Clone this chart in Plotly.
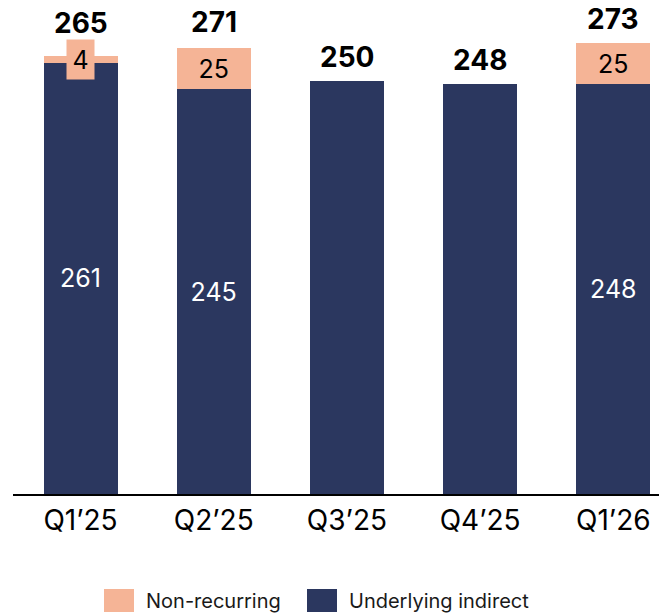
import plotly.graph_objects as go

# Data (totals as printed; segments are rounded)
quarters = ["Q1’25", "Q2’25", "Q3’25", "Q4’25", "Q1’26"]
underlying = [261, 245, 250, 248, 248]
non_recurring = [4, 25, 0, 0, 25]
totals = [265, 271, 250, 248, 273]

NAVY = "#2B375F"
PEACH = "#F5B496"
FONT = "Inter, Roboto, sans-serif"

W, H = 659, 614
PLOT_L, PLOT_R, PLOT_T, PLOT_B = 13, 659, 0, 494


def px_x(px):
    return (px - PLOT_L) / (PLOT_R - PLOT_L)


def px_y(py):
    return (PLOT_B - py) / (PLOT_B - PLOT_T)


fig = go.Figure()

# underlying value is only labelled where there is a non-recurring part
fig.add_trace(go.Bar(
    x=quarters, y=underlying, name="Underlying indirect",
    marker=dict(color=NAVY, line=dict(width=0)),
    text=[str(u) if n > 0 else "" for u, n in zip(underlying, non_recurring)],
    textposition="inside", insidetextanchor="middle",
    textfont=dict(family=FONT, size=25, color="white"),
))

fig.add_trace(go.Bar(
    x=quarters, y=non_recurring, name="Non-recurring",
    marker=dict(color=PEACH, line=dict(width=0)),
    text=[str(v) if v >= 10 else "" for v in non_recurring],
    textposition="inside", insidetextanchor="middle",
    textfont=dict(family=FONT, size=25, color="black"),
))

annotations = []
for q, n, t in zip(quarters, non_recurring, totals):
    small = 0 < n < 10
    # total label above the stack
    annotations.append(dict(
        x=q, y=t, text=f"<b>{t}</b>", showarrow=False,
        yanchor="bottom", yshift=14 if small else 5,
        font=dict(family=FONT, size=28, color="black"),
    ))
    if small:
        # tiny segment: label sits in a peach box over the bar top
        annotations.append(dict(
            x=q, y=t, text=str(n), showarrow=False,
            yanchor="middle", yshift=-3,
            bgcolor=PEACH, width=25, height=37, borderpad=1,
            font=dict(family=FONT, size=25, color="black"),
        ))

# custom legend (large swatches)
legend_items = [("Non-recurring", PEACH, 104), ("Underlying indirect", NAVY, 307)]
shapes = []
for label, color, x0 in legend_items:
    shapes.append(dict(
        type="rect", xref="paper", yref="paper",
        x0=px_x(x0), x1=px_x(x0 + 30), y0=px_y(612), y1=px_y(589),
        fillcolor=color, line=dict(width=0),
    ))
    annotations.append(dict(
        xref="paper", yref="paper", x=px_x(x0 + 40), y=px_y(601),
        xanchor="left", yanchor="middle", text=label, showarrow=False,
        font=dict(family=FONT, size=20, color="#1a1a1a"),
    ))

fig.update_layout(
    barmode="stack",
    bargap=0.444,
    width=W, height=H,
    margin=dict(l=PLOT_L, r=W - PLOT_R, t=PLOT_T, b=H - PLOT_B),
    paper_bgcolor="white", plot_bgcolor="white",
    showlegend=False,
    annotations=annotations,
    shapes=shapes,
    xaxis=dict(
        type="category", range=[-0.507, 4.343],
        showline=True, linecolor="black", linewidth=2,
        ticks="", showgrid=False,
        tickfont=dict(family=FONT, size=28, color="black"),
    ),
    yaxis=dict(
        range=[0, (PLOT_B - PLOT_T) / 1.652],
        visible=False, showgrid=False, zeroline=False,
    ),
    uniformtext=dict(mode="show", minsize=10),
)

fig.write_html(
    "out.html",
    config={"displayModeBar": False},
    post_script="document.body.style.margin='0';",
)
